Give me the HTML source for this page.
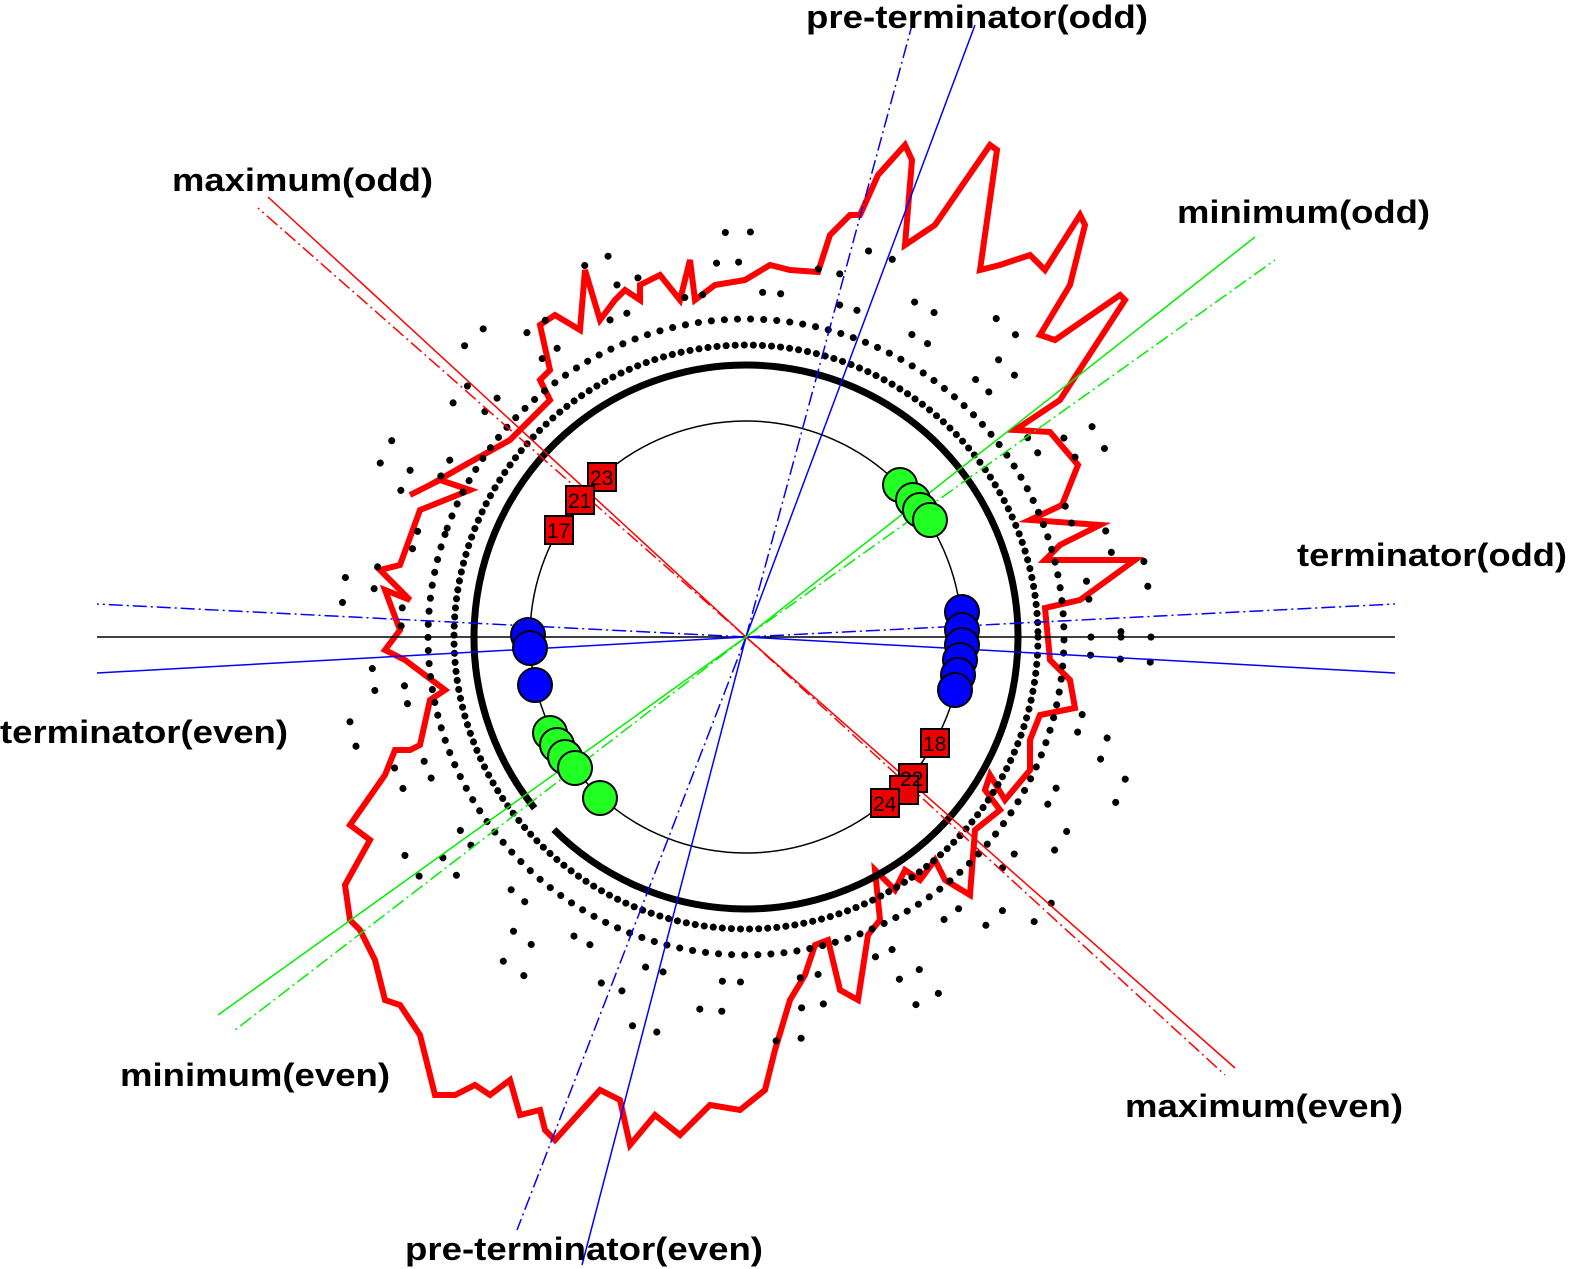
<!DOCTYPE html>
<html><head><meta charset="utf-8"><style>
html,body{margin:0;padding:0;background:#fff}
svg{display:block}
text{font-family:"Liberation Sans",sans-serif;font-weight:bold}
</style></head><body>
<svg width="1570" height="1269" viewBox="0 0 1570 1269" xmlns="http://www.w3.org/2000/svg">
<polygon fill="none" stroke="#f00" stroke-width="6" stroke-linejoin="miter" points="818,272 830,235 850,215 860,215 878,175 905,145 912,160 905,245 935,225 990,145 997,150 980,270 1000,265 1030,255 1045,270 1080,215 1085,225 1070,285 1040,335 1055,340 1120,295 1125,300 1060,400 1015,430 1050,432 1078,465 1062,505 1030,520 1100,525 1060,545 1045,560 1135,560 1080,600 1045,608 1050,660 1070,680 1075,708 1040,715 1030,740 1030,770 1005,800 990,775 985,790 1000,810 975,830 970,895 945,880 935,860 920,880 905,870 895,890 875,870 880,920 868,935 858,1000 840,990 828,940 815,945 805,975 790,1000 775,1050 765,1090 740,1110 710,1105 680,1135 655,1115 630,1145 620,1100 600,1090 555,1140 545,1130 540,1110 520,1115 510,1080 490,1095 475,1085 455,1095 435,1095 420,1035 400,1005 385,1000 375,960 360,930 350,920 345,885 370,840 350,825 385,775 395,750 410,750 420,745 430,700 445,690 405,660 385,650 400,630 385,590 410,600 380,570 400,565 420,510 470,490 440,480 410,495 430,485 465,465 510,440 550,400 540,380 550,370 540,325 555,315 580,330 585,270 600,320 615,300 625,290 640,300 640,285 660,275 680,300 690,260 695,300 715,285 745,280 770,265 790,270"/>
<g fill="none" stroke="#000" stroke-linecap="round">
<circle cx="746" cy="637" r="292" stroke-width="7" stroke-dasharray="0.1 9"/>
<circle cx="746" cy="637" r="318" stroke-width="7" stroke-dasharray="0.1 13" transform="rotate(200 746 637)" />
<circle cx="746" cy="637" r="345" stroke-width="7" stroke-dasharray="0.1 18 0.1 60"/>
<circle cx="746" cy="637" r="375" stroke-width="7" stroke-dasharray="0.1 22 0.1 80"/>
<circle cx="746" cy="637" r="405" stroke-width="7" stroke-dasharray="0.1 25 0.1 120"/>
</g>
<line x1="97" y1="637" x2="1395" y2="637" stroke="#000" stroke-width="1.5"/>
<circle cx="746" cy="637" r="216" fill="none" stroke="#000" stroke-width="1.5"/>
<circle cx="746" cy="637" r="272" fill="none" stroke="#000" stroke-width="7" stroke-dasharray="1680 29" transform="rotate(141 746 637)"/>
<g stroke-width="1.5" fill="none">
<g stroke="#00f">
<line x1="746" y1="637" x2="1395" y2="673"/>
<line x1="746" y1="637" x2="1395" y2="604" stroke-dasharray="14 4 2 4"/>
<line x1="746" y1="637" x2="97" y2="673"/>
<line x1="746" y1="637" x2="97" y2="604" stroke-dasharray="14 4 2 4"/>
<line x1="746" y1="637" x2="975" y2="25"/>
<line x1="746" y1="637" x2="912" y2="25" stroke-dasharray="14 4 2 4"/>
<line x1="746" y1="637" x2="582" y2="1265"/>
<line x1="746" y1="637" x2="517" y2="1230" stroke-dasharray="14 4 2 4"/>
</g>
<g stroke="#f00">
<line x1="746" y1="637" x2="268" y2="197"/>
<line x1="746" y1="637" x2="258" y2="208" stroke-dasharray="14 4 2 4"/>
<line x1="746" y1="637" x2="1235" y2="1068"/>
<line x1="746" y1="637" x2="1225" y2="1075" stroke-dasharray="14 4 2 4"/>
</g>
<g stroke="#0e0">
<line x1="746" y1="637" x2="1255" y2="237"/>
<line x1="746" y1="637" x2="1275" y2="260" stroke-dasharray="14 4 2 4"/>
<line x1="746" y1="637" x2="218" y2="1015"/>
<line x1="746" y1="637" x2="235" y2="1030" stroke-dasharray="14 4 2 4"/>
</g>
</g>
<g stroke="#000" stroke-width="2">
<g fill="#2f2">
<circle cx="900" cy="485" r="17"/><circle cx="913" cy="500" r="17"/><circle cx="920" cy="510" r="17"/><circle cx="930" cy="520" r="17"/>
<circle cx="550" cy="733" r="17"/><circle cx="557" cy="745" r="17"/><circle cx="565" cy="757" r="17"/><circle cx="575" cy="768" r="17"/><circle cx="600" cy="798" r="17"/>
</g>
<g fill="#00f">
<circle cx="962" cy="612" r="17"/><circle cx="962" cy="630" r="17"/><circle cx="962" cy="645" r="17"/><circle cx="960" cy="660" r="17"/><circle cx="958" cy="675" r="17"/><circle cx="955" cy="690" r="17"/>
<circle cx="528" cy="635" r="17"/><circle cx="530" cy="648" r="17"/><circle cx="535" cy="685" r="17"/>
</g>
<g fill="#e00">
<rect x="588" y="463" width="28" height="28"/><rect x="566" y="486" width="28" height="28"/><rect x="545" y="516" width="28" height="28"/>
<rect x="921" y="729" width="28" height="28"/><rect x="899" y="764" width="28" height="28"/><rect x="890" y="776" width="28" height="28"/><rect x="871" y="789" width="28" height="28"/>
</g>
</g>
<g font-size="21" fill="#000">
<text x="590" y="485" style="font-weight:normal">23</text><text x="568" y="508" style="font-weight:normal">21</text><text x="547" y="538" style="font-weight:normal">17</text>
<text x="923" y="751" style="font-weight:normal">18</text><text x="900" y="786" style="font-weight:normal">22</text><text x="873" y="811" style="font-weight:normal">24</text>
</g>
<g font-size="32" fill="#000">
<text x="806" y="28" textLength="342" lengthAdjust="spacingAndGlyphs">pre-terminator(odd)</text>
<text x="172" y="191" textLength="261" lengthAdjust="spacingAndGlyphs">maximum(odd)</text>
<text x="1177" y="223" textLength="253" lengthAdjust="spacingAndGlyphs">minimum(odd)</text>
<text x="1297" y="566" textLength="270" lengthAdjust="spacingAndGlyphs">terminator(odd)</text>
<text x="0" y="743" textLength="288" lengthAdjust="spacingAndGlyphs">terminator(even)</text>
<text x="120" y="1086" textLength="270" lengthAdjust="spacingAndGlyphs">minimum(even)</text>
<text x="1125" y="1117" textLength="278" lengthAdjust="spacingAndGlyphs">maximum(even)</text>
<text x="405" y="1260" textLength="358" lengthAdjust="spacingAndGlyphs">pre-terminator(even)</text>
</g>
</svg>
</body></html>
